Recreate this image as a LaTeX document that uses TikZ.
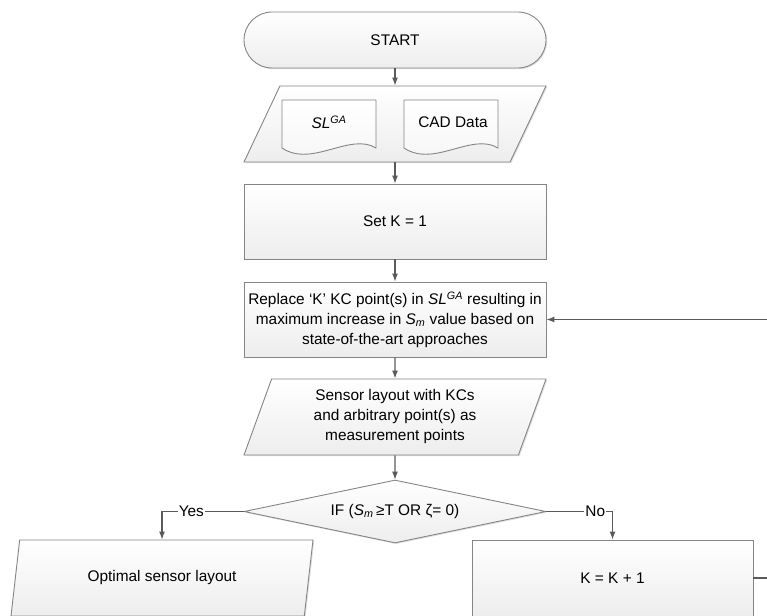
\documentclass[tikz,border=0pt]{standalone}
\usepackage{fontspec}
\setmainfont{Liberation Sans}
\usetikzlibrary{shapes.geometric, arrows.meta, shadows}
\definecolor{linegray}{HTML}{5A5A5A}
\definecolor{edgegray}{HTML}{858585}
\tikzstyle{base}=[draw=edgegray, line width=0.9pt, top color=white, bottom color=gray!14, drop shadow={shadow xshift=1.2pt, shadow yshift=-1.2pt, fill=gray!40, opacity=0.6}, font=\fontsize{15.4pt}{20pt}\selectfont, align=center, inner sep=2pt]
\tikzstyle{terminal}=[base, rounded corners=28pt, minimum width=302pt, minimum height=56pt]
\tikzstyle{process}=[base, rectangle, minimum width=302pt, minimum height=75pt]
\tikzstyle{io}=[base, trapezium, trapezium left angle=64.7, trapezium right angle=115.3, trapezium stretches body, minimum width=302pt, minimum height=76pt]
\tikzstyle{decision}=[base, diamond, aspect=4.8, minimum width=302pt, minimum height=63pt, inner sep=0pt]
\tikzstyle{doc}=[minimum width=94pt, minimum height=48pt, font=\fontsize{15.4pt}{20pt}\selectfont]
\tikzstyle{docline}=[draw=edgegray, line width=0.9pt, top color=white, bottom color=gray!8]
\tikzstyle{flow}=[draw=linegray, line width=1.1pt, -{Latex[length=8pt, width=6pt]}]
\tikzstyle{answer}=[fill=white, inner sep=1pt, font=\fontsize{15.4pt}{20pt}\selectfont]

\begin{document}
\begin{tikzpicture}[x=1pt, y=-1pt]
\useasboundingbox (0,0) rectangle (767,615);
\clip (0,0) rectangle (767,615);
\node[terminal] at (395, 40) (start) {START};
\node[io, inner ysep=28pt] at (395, 124) (input) {\strut};
\draw[docline] (329, 124) ++(-47,-24) -- ++(94,0) -- ++(0,48) .. controls +(-26,-16) and +(30,20) .. ++(-94,0) -- cycle;
\draw[docline] (451, 124) ++(-47,-24) -- ++(94,0) -- ++(0,48) .. controls +(-26,-16) and +(30,20) .. ++(-94,0) -- cycle;
\node[doc] at (329, 122) (sl) {\textit{SL}\textsuperscript{\textit{GA}}};
\node[doc] at (453, 122) (cad) {CAD Data};
\node[process] at (395, 221.5) (setk) {Set K = 1};
\node[process] at (395, 319.5) (replace) {Replace ‘K’ KC point(s) in \textit{SL}\textsuperscript{\textit{GA}} resulting in\\ maximum increase in \textit{S}\textsubscript{\textit{m}} value based on\\ state-of-the-art approaches};
\node[io] at (395, 417) (layout) {Sensor layout with KCs\\ and arbitrary point(s) as\\ measurement points};
\node[decision] at (395, 511.5) (check) {IF (\textit{S}\textsubscript{\textit{m}}\,≥T OR ζ= 0)};
\node[io] at (162, 578) (optimal) {Optimal sensor layout};
\node[process, minimum width=281pt, minimum height=76pt] at (612.5, 578) (incr) {K = K + 1};

\draw[flow] (start) -- (input);
\draw[flow] (input) -- (setk);
\draw[flow] (setk) -- (replace);
\draw[flow] (replace) -- (layout);
\draw[flow] (layout) -- (check);
\draw[flow] (check.west) -| node[answer, pos=0.32] {Yes} (optimal.north);
\draw[flow] (check.east) -| node[answer, pos=0.37] {No} (incr.north);
\draw[flow] (incr.east) -- ++(40,0) |- (replace.east);
\end{tikzpicture}
\end{document}
